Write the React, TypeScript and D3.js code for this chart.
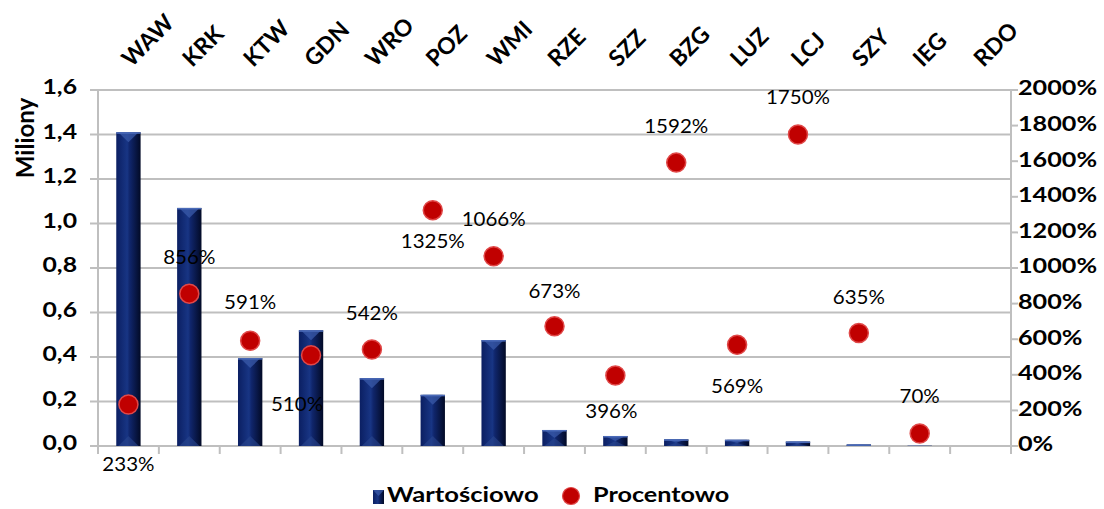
import React from "react";
import * as d3 from "d3";

const categories = ["WAW", "KRK", "KTW", "GDN", "WRO", "POZ", "WMI", "RZE", "SZZ", "BZG", "LUZ", "LCJ", "SZY", "IEG", "RDO"];
const valuesMln = [1.41, 1.07, 0.395, 0.52, 0.305, 0.23, 0.476, 0.072, 0.045, 0.03, 0.028, 0.02, 0.007, 0.001, 0];
const percent: (number | null)[] = [233, 856, 591, 510, 542, 1325, 1066, 673, 396, 1592, 569, 1750, 635, 70, null];
const leftTicks = [0, 0.2, 0.4, 0.6, 0.8, 1.0, 1.2, 1.4, 1.6];
const rightTicks = [0, 200, 400, 600, 800, 1000, 1200, 1400, 1600, 1800, 2000];
// label placement offsets relative to each point (style, not data)
const labelOffsets: [number, number][] = [
  [0, 62], [0, -34], [0, -37], [-14, 51], [0, -34], [0, 33], [0, -35], [0, -33], [-4, 38], [0, -34], [0, 43], [0, -35], [0, -34], [0, -35], [0, 0],
];

const W = 1104, H = 509;
const L = 98, R = 1011, T = 90, B = 446;
const FONT = "Lato, 'Open Sans', sans-serif";

type STextProps = {
  x: number; y: number; sx?: number; anchor?: "start" | "middle" | "end";
  size: number; bold?: boolean; children: React.ReactNode;
};
function SText({ x, y, sx = 1, anchor = "start", size, bold, children }: STextProps) {
  return (
    <text
      transform={`translate(${x} ${y}) scale(${sx} 1)`}
      x={0}
      y={0}
      textAnchor={anchor}
      dominantBaseline="middle"
      fontFamily={FONT}
      fontWeight={bold ? "bold" : "normal"}
      fontSize={size}
      fill="#000"
    >
      {children}
    </text>
  );
}

export default function App() {
  const x = d3.scaleBand<string>().domain(categories).range([L, R]).paddingInner(0.6).paddingOuter(0.3);
  const band = (R - L) / categories.length;
  const yL = d3.scaleLinear().domain([0, 1.6]).range([B, T]);
  const yR = d3.scaleLinear().domain([0, 2000]).range([B, T]);
  const fmt = (v: number) => d3.format(".1f")(v).replace(".", ",");
  const grid = "#bfbfbf";
  const bw = x.bandwidth();

  return (
    <svg width={W} height={H} style={{ position: "absolute", left: 0, top: 0, background: "#fff" }}>
      <defs>
        <linearGradient id="barG" x1="0" x2="1" y1="0" y2="0">
          <stop offset="0" stopColor="#0b1f62" />
          <stop offset="0.45" stopColor="#183584" />
          <stop offset="0.55" stopColor="#10266c" />
          <stop offset="1" stopColor="#020a26" />
        </linearGradient>
      </defs>
      {/* gridlines */}
      {leftTicks.map((t) => (
        <line key={"g" + t} x1={L - 8} x2={R} y1={yL(t)} y2={yL(t)} stroke={grid} strokeWidth={2} />
      ))}
      {/* axes */}
      <line x1={L} x2={L} y1={T} y2={B + 8} stroke={grid} strokeWidth={2} />
      <line x1={R} x2={R} y1={T} y2={B + 8} stroke={grid} strokeWidth={2} />
      {rightTicks.map((t) => (
        <line key={"rt" + t} x1={R} x2={R + 7} y1={yR(t)} y2={yR(t)} stroke={grid} strokeWidth={2} />
      ))}
      {d3.range(categories.length + 1).map((i) => (
        <line key={"ct" + i} x1={L + i * band} x2={L + i * band} y1={B} y2={B + 8} stroke={grid} strokeWidth={2} />
      ))}
      {/* bars */}
      {categories.map((c, i) => {
        const v = valuesMln[i];
        if (v <= 0) return null;
        const x0 = x(c)!;
        const y0 = yL(v);
        const h = B - y0;
        const tri = Math.min(bw / 2, h / 2, 10);
        return (
          <g key={"b" + c}>
            <rect x={x0} y={y0} width={bw} height={h} fill="url(#barG)" />
            <polygon points={`${x0 + 2},${y0} ${x0 + bw - 2},${y0} ${x0 + bw / 2},${y0 + tri}`} fill="#3a5aa8" opacity={0.75} />
            <polygon points={`${x0 + 2},${B} ${x0 + bw - 2},${B} ${x0 + bw / 2},${B - tri}`} fill="#2a468e" opacity={0.6} />
            <rect x={x0} y={y0} width={bw} height={Math.min(1.5, h)} fill="#4a6ab8" />
          </g>
        );
      })}
      {/* dots */}
      {categories.map((c, i) => {
        const p = percent[i];
        if (p == null) return null;
        const cx = x(c)! + bw / 2;
        const cy = yR(p);
        return <circle key={"d" + c} cx={cx} cy={cy} r={9.5} fill="#c00000" stroke="#e04848" strokeWidth={1.5} />;
      })}
      {/* data labels */}
      {categories.map((c, i) => {
        const p = percent[i];
        if (p == null) return null;
        const cx = x(c)! + bw / 2 + labelOffsets[i][0];
        const cy = yR(p) + labelOffsets[i][1];
        return (
          <SText key={"l" + c} x={cx} y={cy} sx={1.08} anchor="middle" size={19}>
            {p + "%"}
          </SText>
        );
      })}
      {/* left tick labels */}
      {leftTicks.map((t) => (
        <SText key={"lt" + t} x={77} y={yL(t) - 1} sx={1.18} anchor="end" size={21} bold>
          {fmt(t)}
        </SText>
      ))}
      {/* right tick labels */}
      {rightTicks.map((t) => (
        <SText key={"rl" + t} x={1018} y={yR(t)} sx={1.2} anchor="start" size={21} bold>
          {t + "%"}
        </SText>
      ))}
      {/* category labels */}
      {categories.map((c) => {
        const cx = x(c)! + bw / 2 + 3;
        const cy = 68;
        return (
          <text key={"c" + c} x={cx} y={cy} transform={`rotate(-45 ${cx} ${cy})`} textAnchor="start" fontFamily={FONT} fontWeight="bold" fontSize={23}>
            {c}
          </text>
        );
      })}
      {/* y title */}
      <text x={0} y={0} transform={`translate(34 ${138}) rotate(-90)`} textAnchor="middle" fontFamily={FONT} fontWeight="bold" fontSize={24}>
        Miliony
      </text>
      {/* legend */}
      <rect x={373} y={490} width={11} height={14} fill="url(#barG)" />
      <polygon points="373,490 384,490 378.5,496" fill="#3a5aa8" opacity={0.75} />
      <SText x={387} y={497} sx={1.22} size={21} bold>Wartościowo</SText>
      <circle cx={571} cy={496} r={8.5} fill="#c00000" stroke="#e04848" strokeWidth={1.2} />
      <SText x={593} y={497} sx={1.2} size={21} bold>Procentowo</SText>
    </svg>
  );
}
